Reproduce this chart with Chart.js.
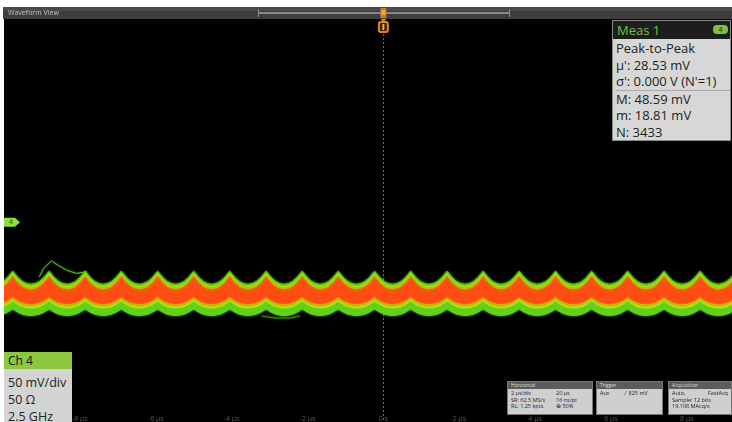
<!DOCTYPE html>
<html><head><meta charset="utf-8">
<script src="https://cdn.jsdelivr.net/npm/chart.js@4"></script>
<style>
html,body{margin:0;padding:0;background:#fff;}
#wrap{position:relative;width:732px;height:422px;overflow:hidden;font-family:"Open Sans",sans-serif;}
canvas{position:absolute;left:0;top:0;}
.ov{position:absolute;box-sizing:border-box;}
.bx{background:#cfcfcf;border:1px solid #777;}
.bx .hd{height:7px;background:#5c5c5c;color:#ddd;font-size:5px;line-height:7px;padding-left:3px;}
.bx .bd{font-size:5.5px;line-height:6.5px;color:#222;padding:1px 2px 0 3px;position:relative;}
.r{position:absolute;}
</style></head><body>
<div id="wrap">
<canvas id="c" width="732" height="422"></canvas>
<div class="ov" style="left:8px;top:8px;font-size:7px;color:#c4c4c4;line-height:10px;">Waveform View</div>

<div class="ov" style="left:612px;top:20px;width:119px;height:121px;background:#d7d7d7;border:1px solid #8a8a8a;">
  <div style="height:18px;background:#1d1d1d;color:#7cc242;font-size:13px;line-height:18px;padding-left:4px;position:relative;">Meas 1<span style="position:absolute;right:2px;top:4px;width:15px;height:9px;background:#7cc242;border-radius:4px;color:#1d1d1d;font-size:7px;line-height:9px;text-align:center;">4</span></div>
  <div style="font-size:13px;color:#222;line-height:16.6px;padding-left:3px;padding-top:1px;">
    <div>Peak-to-Peak</div>
    <div>µ': 28.53 mV</div>
    <div>σ': 0.000 V (N'=1)</div>
    <div style="border-top:1px solid #aaa;">M: 48.59 mV</div>
    <div>m: 18.81 mV</div>
    <div>N: 3433</div>
  </div>
</div>

<div class="ov" style="left:4px;top:352px;width:68px;height:70px;background:#d4d4d4;">
  <div style="height:17px;background:#8dc63f;color:#111;font-size:12px;line-height:17px;padding-left:4px;">Ch 4</div>
  <div style="font-size:12.5px;color:#222;line-height:17px;padding-left:4px;padding-top:5px;">50 mV/div<br>50 Ω<br>2.5 GHz</div>
</div>

<div class="ov bx" style="left:507px;top:381px;width:86px;height:34px;">
  <div class="hd">Horizontal</div>
  <div class="bd">2 µs/div<br>SR: 62.5 MS/s<br>RL: 1.25 kpts
    <div class="r" style="left:48px;top:1px;">20 µs<br>16 ns/pt<br>⊕ 50%</div></div>
</div>
<div class="ov bx" style="left:596px;top:381px;width:67px;height:34px;">
  <div class="hd">Trigger</div>
  <div class="bd">Aux<div class="r" style="left:28px;top:1px;">⁄&nbsp;&nbsp;825 mV</div></div>
</div>
<div class="ov bx" style="left:668px;top:381px;width:64px;height:34px;">
  <div class="hd">Acquisition</div>
  <div class="bd">Auto,<div class="r" style="right:3px;top:1px;">FastAcq</div><br>Sample: 12 bits<br>19.108 MAcq/s</div>
</div>
</div>
<script>
// ---- data ----
// times (µs) of the upward cusps of the 1 MHz ripple
const peakTimesUs = [-10.72, -9.77, -8.81, -7.86, -6.91, -5.95, -5.00, -4.05, -3.09, -2.14,
                     -1.19, -0.23, 0.72, 1.68, 2.63, 3.58, 4.54, 5.49, 6.44, 7.40, 8.35, 9.31];
// shape of one ripple cycle: phase (fraction of cycle) and depth (0 = cusp, 1 = trough)
const cyclePhase = [0, 0.08, 0.17, 0.27, 0.38, 0.5, 0.62, 0.73, 0.83, 0.92];
const cycleDepth = [0, 0.28, 0.56, 0.79, 0.94, 1, 0.94, 0.79, 0.56, 0.28];
// persistence layers (outer to inner): edge levels in mV at cusp and at trough
const layerNames     = ['green', 'yellow', 'amber', 'core'];
const layerColors    = ['#62d01c', '#c6e30e', '#ffa000', '#ff4c12'];
const topPeakMv      = [-60.0, -62.8, -64.8, -67.2];
const topTroughMv    = [-76.0, -78.7, -80.7, -83.1];
const bottomPeakMv   = [-106.0, -96.6, -93.5, -91.1];
const bottomTroughMv = [-114.0, -105.1, -102.1, -99.6];
// single glitch traces
const glitchTimesUs = [-9.07, -8.95, -8.75, -8.58, -8.35, -8.09, -7.82];
const glitchMv      = [-66.8, -56.2, -47.3, -52.5, -58.6, -62.6, -60.7];
const lowTimesUs    = [-3.20, -2.86, -2.46, -2.20];
const lowMv         = [-114.6, -117.1, -117.1, -114.6];
// time axis labels
const tickValuesUs = [-8, -6, -4, -2, 0, 2, 4, 6, 8];
const tickLabels   = ['-8 µs', '-6 µs', '-4 µs', '-2 µs', '0 s', '2 µs', '4 µs', '6 µs', '8 µs'];

function edge(peakMv, troughMv){
  const pts = [];
  for (let i = 0; i < peakTimesUs.length - 1; i++){
    const t0 = peakTimesUs[i], t1 = peakTimesUs[i+1];
    for (let j = 0; j < cyclePhase.length; j++){
      pts.push({x: t0 + cyclePhase[j]*(t1 - t0), y: peakMv + cycleDepth[j]*(troughMv - peakMv)});
    }
  }
  pts.push({x: peakTimesUs[peakTimesUs.length-1], y: peakMv});
  return pts;
}

const datasets = [];
layerNames.forEach((n, i) => {
  datasets.push({label: n + ' top', data: edge(topPeakMv[i], topTroughMv[i]), fill: '+1',
    backgroundColor: layerColors[i], borderColor: layerColors[i], borderWidth: 1, order: 10 - i});
  datasets.push({label: n + ' bottom', data: edge(bottomPeakMv[i], bottomTroughMv[i]), fill: false,
    borderColor: layerColors[i], borderWidth: 1, order: 10 - i});
});
datasets.push({label: 'glitch', data: glitchTimesUs.map((t, k) => ({x: t, y: glitchMv[k]})),
  fill: false, borderColor: '#5fbf1c', borderWidth: 1, order: 0});
datasets.push({label: 'low', data: lowTimesUs.map((t, k) => ({x: t, y: lowMv[k]})),
  fill: false, borderColor: '#3f8f16', borderWidth: 1, order: 0});

const deco = {
  id: 'deco',
  beforeDraw(chart){
    const ctx = chart.ctx, a = chart.chartArea;
    ctx.save();
    ctx.fillStyle = '#fff'; ctx.fillRect(0, 0, chart.width, chart.height);
    ctx.fillStyle = '#000'; ctx.fillRect(a.left, a.top, a.right - a.left, a.bottom - a.top);
    // title bar
    ctx.fillStyle = '#3e3e3e'; ctx.fillRect(a.left - 1, 7, chart.width, a.top - 7);
    ctx.fillStyle = '#4a4a4a'; ctx.fillRect(a.left - 1, 7, chart.width, 4);
    ctx.strokeStyle = '#8a8a8a'; ctx.lineWidth = 2;
    ctx.beginPath(); ctx.moveTo(258, 13); ctx.lineTo(510, 13); ctx.stroke();
    ctx.lineWidth = 1;
    ctx.beginPath(); ctx.moveTo(258.5, 9); ctx.lineTo(258.5, 17); ctx.moveTo(509.5, 9); ctx.lineTo(509.5, 17); ctx.stroke();
    const x0 = chart.scales.x.getPixelForValue(0);
    ctx.fillStyle = '#d07a1a'; ctx.fillRect(x0 - 3, 8, 6, 10);
    ctx.fillStyle = '#f3a640'; ctx.fillRect(x0 - 2, 10, 4, 5);
    ctx.restore();
  },
  beforeDatasetsDraw(chart){
    const ctx = chart.ctx, a = chart.chartArea;
    const x0 = Math.round(chart.scales.x.getPixelForValue(0)) + 0.5;
    ctx.save();
    ctx.strokeStyle = '#6a6a6a'; ctx.lineWidth = 1; ctx.setLineDash([2, 2]);
    ctx.beginPath(); ctx.moveTo(x0, 34); ctx.lineTo(x0, a.bottom); ctx.stroke();
    ctx.restore();
    // soft glow on the persistence edges
    ctx.save();
    ctx.shadowColor = 'rgba(110,215,30,0.8)';
    ctx.shadowBlur = 2.5;
  },
  afterDatasetsDraw(chart){
    chart.ctx.restore();
  },
  afterDraw(chart){
    const ctx = chart.ctx, a = chart.chartArea, xs = chart.scales.x, ys = chart.scales.y;
    const x0 = xs.getPixelForValue(0);
    ctx.save();
    // trigger position marker
    ctx.fillStyle = '#e0891c';
    ctx.beginPath(); ctx.moveTo(x0 - 3, 19); ctx.lineTo(x0 + 3, 19); ctx.lineTo(x0, 22); ctx.closePath(); ctx.fill();
    ctx.fillStyle = '#3a2200'; ctx.strokeStyle = '#e0891c'; ctx.lineWidth = 2;
    ctx.beginPath(); ctx.roundRect(x0 - 4.5, 22, 9, 10, 2); ctx.fill(); ctx.stroke();
    ctx.fillStyle = '#f0b060'; ctx.fillRect(x0 - 1, 24, 2, 6);
    // channel 4 offset marker
    const ym = ys.getPixelForValue(0);
    ctx.fillStyle = '#8ee03c';
    ctx.beginPath();
    ctx.moveTo(a.left, ym - 4.5); ctx.lineTo(a.left + 11, ym - 4.5); ctx.lineTo(a.left + 16, ym);
    ctx.lineTo(a.left + 11, ym + 4.5); ctx.lineTo(a.left, ym + 4.5); ctx.closePath(); ctx.fill();
    ctx.fillStyle = '#4a8a1a'; ctx.font = 'bold 7px "Open Sans"'; ctx.textAlign = 'center'; ctx.textBaseline = 'middle';
    ctx.fillText('4', a.left + 7, ym);
    // time labels
    ctx.fillStyle = '#5a5a5a'; ctx.font = '7px "Open Sans"';
    tickValuesUs.forEach((v, i) => ctx.fillText(tickLabels[i], xs.getPixelForValue(v), 419));
    ctx.restore();
  }
};

new Chart(document.getElementById('c'), {
  type: 'line',
  data: {datasets},
  options: {
    responsive: false, animation: false, parsing: true,
    layout: {padding: {left: 4, top: 19, right: 0, bottom: 0}},
    elements: {point: {radius: 0}, line: {tension: 0}},
    scales: {
      x: {type: 'linear', min: -10, max: 9.19, display: false},
      y: {type: 'linear', min: -244, max: 248, display: false}
    },
    plugins: {legend: {display: false}, tooltip: {enabled: false}, filler: {drawTime: 'beforeDatasetDraw'}}
  },
  plugins: [deco]
});
</script>
</body></html>
